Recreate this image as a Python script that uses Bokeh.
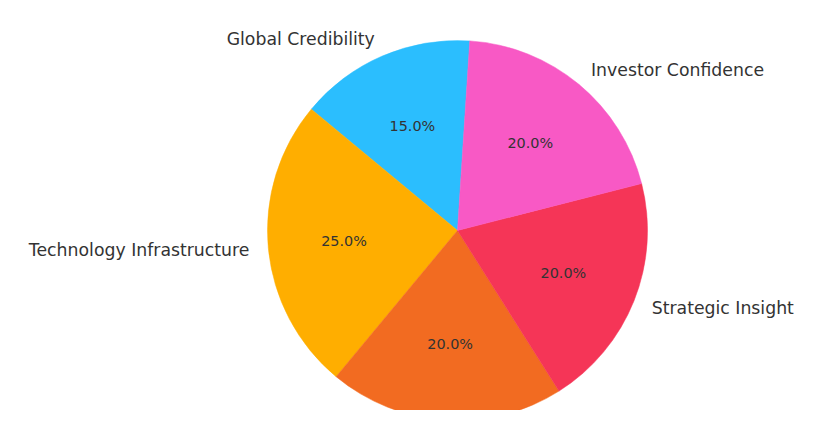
import math
from bokeh.plotting import figure
from bokeh.models import Range1d, ColumnDataSource
from bokeh.core.properties import value
from bokeh.embed import file_html
from bokeh.resources import INLINE

# Data (counter-clockwise order starting at the top)
categories = ["Global Credibility", "Technology Infrastructure", "", "Strategic Insight", "Investor Confidence"]
shares = [15.0, 25.0, 20.0, 20.0, 20.0]
colors = ["#2BBEFE", "#FFAE00", "#F26B21", "#F53557", "#F859C5"]
start_deg = 86.3

W, H = 823, 410
cx, cy, r = 457, -230, 190

p = figure(width=W, height=H, output_backend="svg", toolbar_location=None,
           x_range=Range1d(0, W), y_range=Range1d(-H, 0),
           min_border=0, outline_line_color=None)
p.axis.visible = False
p.grid.visible = False

total = sum(shares)
starts, ends, mids = [], [], []
a = math.radians(start_deg)
for s in shares:
    da = 2 * math.pi * s / total
    starts.append(a)
    ends.append(a + da)
    mids.append(a + da / 2)
    a += da

src = ColumnDataSource(dict(x=[cx] * len(shares), y=[cy] * len(shares), start=starts, end=ends, color=colors))
p.wedge(x="x", y="y", radius=r, start_angle="start", end_angle="end", fill_color="color",
        line_color="color", line_width=0.5, source=src)

# percent labels
pct_x = [cx + 0.6 * r * math.cos(m) for m in mids]
pct_y = [cy + 0.6 * r * math.sin(m) for m in mids]
pct_t = [f"{s / total * 100:.1f}%" for s in shares]
p.text(x=pct_x, y=pct_y, text=pct_t, text_font=value("DejaVu Sans"), text_font_size="14.4px",
       text_color="#333333", text_align="center", text_baseline="middle")

# category labels
lx, ly, lt, la = [], [], [], []
for c, m in zip(categories, mids):
    if not c:
        continue
    lx.append(cx + 1.1 * r * math.cos(m))
    ly.append(cy + 1.1 * r * math.sin(m))
    lt.append(c)
    la.append("left" if math.cos(m) > 0 else "right")
p.text(x=lx, y=ly, text=lt, text_align=la, text_font=value("DejaVu Sans"), text_font_size="17.3px",
       text_color="#333333", text_baseline="middle")

open("out.html", "w").write(file_html(p, INLINE))
